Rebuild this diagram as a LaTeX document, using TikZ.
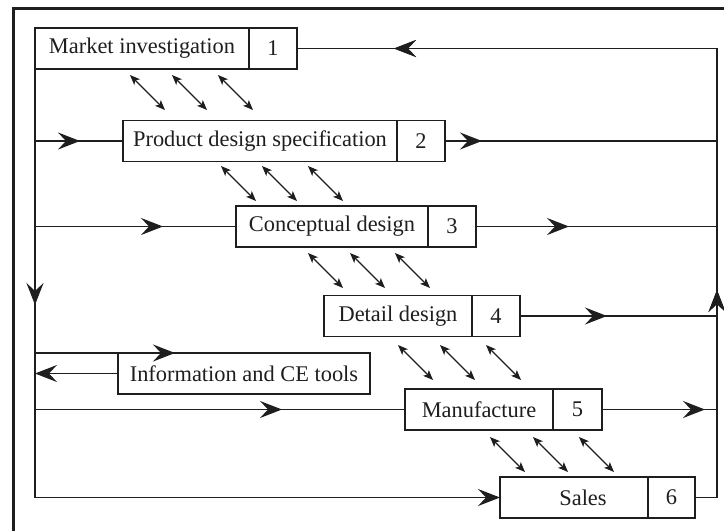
\documentclass[tikz,border=0pt]{standalone}
\usepackage{fontspec}
\setmainfont{Liberation Serif}
\usetikzlibrary{arrows.meta,decorations.markings}
\definecolor{ink}{RGB}{30,30,30}
\begin{document}
\begin{tikzpicture}[x=1pt,y=-1pt,
  every node/.style={font=\fontsize{22.4}{26}\selectfont, text=ink},
  cell/.style={draw=ink, line width=1.5pt, minimum height=41pt, inner sep=0pt, outer sep=0pt, anchor=west},
  flow/.style={draw=ink, line width=1.6pt},
  bigtip/.tip={Stealth[length=22pt,width=17pt,inset=8pt]},
  smalltip/.tip={Stealth[length=10pt,width=8pt,inset=2.5pt]},
  midtip/.style={postaction=decorate, decoration={markings, mark=at position #1 with {\arrow{bigtip}}}},
  dbl/.style={draw=ink, line width=1.4pt, {smalltip}-{smalltip}}
]
\fill[white] (0,0) rectangle (724,531);
\useasboundingbox (0,0) rectangle (724,531);
\draw[ink, line width=3pt] (13,531) -- (13,8) -- (724,8);

% boxes
\node[cell, minimum width=214pt] (m1) at (35,48.5) {Market investigation};
\node[cell, minimum width=48pt] (n1) at (m1.east) {1};
\node[cell, minimum width=274pt] (m2) at (123,141) {Product design specification};
\node[cell, minimum width=48pt] (n2) at (m2.east) {2};
\node[cell, minimum width=192pt] (m3) at (236,226.5) {Conceptual design};
\node[cell, minimum width=48pt] (n3) at (m3.east) {3};
\node[cell, minimum width=148pt] (m4) at (324,316) {Detail design};
\node[cell, minimum width=48pt] (n4) at (m4.east) {4};
\node[cell, minimum width=252pt] (info) at (118,373.5) {Information and CE tools};
\node[cell, minimum width=148pt] (m5) at (405,409.5) {Manufacture};
\node[cell, minimum width=49pt] (n5) at (m5.east) {5};
\node[cell, minimum width=148pt, label={[xshift=9pt]center:Sales}] (m6) at (500,497.5) {};
\node[cell, minimum width=47pt] (n6) at (m6.east) {6};

\coordinate (lb) at (35,497.5);
\coordinate (rb) at (717,497.5);
\coordinate (rt) at (717,48.5);

% left spine
\draw[flow, midtip=236pt, -{bigtip}] (m1.south west) -- (lb) -- (m6.west);
\draw[flow, midtip=45pt] (lb |- m2.west) -- (m2.west);
\draw[flow, midtip=128pt] (lb |- m3.west) -- (m3.west);
\draw[flow, midtip=140pt] (lb |- info.north) -- (info.north east);
\draw[flow, -{bigtip}] (info.west) -- (lb |- info.west);
\draw[flow, midtip=247pt] (lb |- m5.west) -- (m5.west);

% right spine
\draw[flow, midtip=229.5pt, midtip=794pt] (n6.east) -- (rb) -- (rt) -- (n1.east);
\draw[flow, midtip=37pt] (n2.east) -- (n2.east -| rb);
\draw[flow, midtip=93pt] (n3.east) -- (n3.east -| rb);
\draw[flow, midtip=87pt] (n4.east) -- (n4.east -| rb);
\draw[flow, midtip=103pt] (n5.east) -- (n5.east -| rb);

% two-way links
\foreach \x/\y in {130/75, 172/75, 218/75, 221/166, 262/166, 308/166, 308/253, 350/253, 395/253, 398/345, 440/345, 486/345, 490/437, 533/437, 579/437}
  \draw[dbl] (\x,\y) -- ++(35,35);
\end{tikzpicture}
\end{document}
